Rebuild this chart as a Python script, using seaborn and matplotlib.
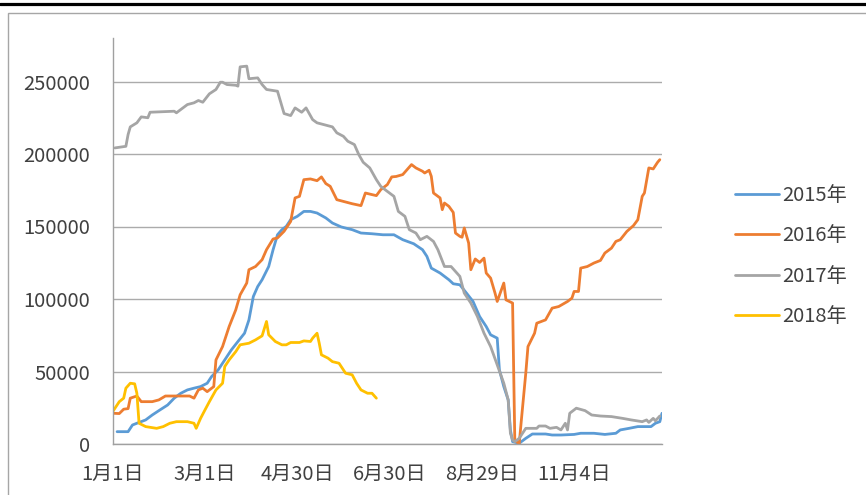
import numpy as np
import pandas as pd
import matplotlib
matplotlib.use("Agg")
import matplotlib.pyplot as plt
import seaborn as sns
from matplotlib.lines import Line2D
from matplotlib.patches import Rectangle

## series values (x = trading-day index, 0..250)
x_2015 = [2, 7, 9, 11, 15, 18, 21, 25, 28, 31, 34, 37, 40, 43, 45, 48, 51, 54, 57, 60,
          62, 64, 66, 68, 71, 73, 75, 77, 79, 81, 84, 87, 90, 93, 97, 100, 104, 109, 113, 118,
          123, 128, 132, 137, 141, 143, 145, 149, 153, 155, 158, 161, 164, 167, 170, 172, 175, 176, 178, 180,
          181, 182, 185, 188, 191, 197, 200, 204, 210, 213, 219, 224, 229, 231, 235, 239, 245, 247, 249, 250]
y_2015 = [8500, 8500, 13100, 14300, 16600, 20000, 23000, 26900, 31600, 35000, 37300, 38500, 39600, 41900, 46500, 51100, 58000, 64900, 70700, 76400,
          85600, 101700, 108600, 113300, 122400, 134000, 144300, 147800, 150100, 154700, 157000, 160400, 160400, 159300, 155900, 152400, 149700, 147800, 145500, 145000,
          144300, 144300, 140900, 138100, 134000, 129400, 121300, 117900, 113300, 110500, 109800, 104100, 98300, 87900, 81000, 75300, 73000, 51100, 39600, 30400,
          9700, 1600, 500, 3900, 6900, 6900, 6200, 6200, 6600, 7400, 7400, 6600, 7400, 9700, 10800, 12000, 12000, 14300, 15400, 21200]

x_2016 = [0, 3, 5, 7, 8, 11, 13, 18, 21, 24, 35, 37, 39, 41, 43, 46, 47, 50, 53, 56,
          58, 61, 62, 65, 68, 70, 73, 75, 78, 81, 83, 85, 87, 90, 93, 95, 97, 99, 102, 105,
          109, 113, 115, 118, 120, 122, 125, 127, 129, 132, 136, 138, 141, 142, 144, 145, 146, 149, 150, 151,
          153, 155, 156, 158, 159, 160, 162, 163, 165, 167, 169, 170, 172, 174, 175, 178, 179, 182, 183, 185,
          186, 188, 189, 192, 193, 197, 200, 203, 207, 209, 210, 212, 213, 216, 219, 222, 224, 227, 229, 231,
          234, 237, 239, 241, 242, 244, 246, 248, 249]
y_2016 = [21200, 21000, 24000, 24400, 31600, 33100, 29200, 29200, 30400, 33100, 33100, 31600, 37300, 38500, 36100, 39600, 58000, 67200, 81000, 92500,
          102900, 111000, 120200, 122400, 127100, 134000, 141400, 142100, 146700, 153500, 169700, 170800, 182300, 182800, 181600, 184200, 179600, 177700, 168500, 167300,
          165700, 164400, 173100, 172000, 171300, 175400, 178900, 184200, 184500, 185800, 192700, 190400, 188100, 186900, 188800, 184600, 173100, 169700, 161600, 166200,
          163900, 159700, 145500, 143200, 142600, 149000, 138600, 120200, 127600, 125200, 128200, 117900, 114400, 104100, 98300, 111000, 99400, 97200, 2800, 0,
          16600, 48800, 67200, 76400, 83300, 85600, 93700, 94800, 98300, 100600, 105200, 105200, 121300, 122400, 124800, 126600, 131700, 135100, 139700, 140900,
          146600, 150600, 154700, 170800, 173100, 190400, 189700, 194300, 196100]

x_2017 = [1, 6, 7, 8, 11, 13, 16, 17, 28, 29, 31, 34, 37, 39, 41, 44, 47, 49, 50, 52,
          56, 57, 58, 61, 62, 66, 68, 70, 75, 77, 78, 81, 83, 86, 88, 91, 93, 96, 100, 102,
          105, 107, 110, 112, 114, 117, 120, 122, 125, 128, 130, 133, 135, 138, 140, 143, 146, 148, 151, 154,
          158, 160, 163, 166, 169, 172, 175, 178, 180, 181, 182, 183, 185, 188, 193, 194, 197, 199, 202, 204,
          206, 207, 208, 211, 215, 218, 222, 227, 232, 236, 241, 243, 244, 246, 247, 249]
y_2017 = [204200, 205300, 213400, 218700, 221500, 225600, 225000, 228800, 229500, 228400, 230700, 234100, 235300, 236900, 235700, 241500, 244500, 249500, 249500, 247900,
          247400, 246800, 260100, 260600, 251900, 252500, 247900, 244500, 243300, 233000, 227900, 226500, 231800, 228800, 231800, 223700, 221500, 220300, 218700, 214600,
          212200, 208800, 206500, 199600, 194300, 190400, 182300, 177700, 174200, 170800, 160400, 157000, 147800, 145500, 140900, 143200, 139700, 134000, 122400, 122400,
          115600, 104100, 97200, 87900, 76400, 67200, 54600, 41900, 30400, 7400, 2800, 1600, 3900, 10800, 10800, 12400, 12400, 10800, 11500, 9700,
          14300, 9700, 21200, 24700, 23000, 20000, 19300, 18900, 17700, 16600, 15400, 16600, 14900, 17700, 16000, 19300]

x_2018 = [0, 3, 5, 6, 8, 10, 11, 12, 15, 20, 23, 26, 29, 34, 37, 38, 40, 42, 44, 47,
          50, 51, 53, 56, 58, 62, 65, 68, 70, 71, 74, 77, 79, 81, 85, 87, 90, 91, 93, 94,
          95, 98, 100, 103, 106, 109, 111, 113, 116, 118, 120]
y_2018 = [22300, 29200, 31600, 38500, 41900, 41500, 35000, 14300, 12000, 10800, 12000, 14300, 15400, 15400, 14300, 10800, 17700, 23500, 29200, 37300,
          41900, 53400, 58000, 63700, 68400, 69500, 71800, 74600, 84500, 75300, 70700, 68400, 68400, 70000, 70000, 71100, 70700, 73000, 76400, 69500,
          61500, 59200, 56800, 55700, 48800, 47700, 41900, 37300, 35000, 35000, 31600]

years = ["2015年", "2016年", "2017年", "2018年"]
tick_labels = ["1月1日", "3月1日", "4月30日", "6月30日", "8月29日", "11月4日"]
y_ticks = [0, 50000, 100000, 150000, 200000, 250000]

colors = ["#5B9BD5", "#ED7D31", "#A5A5A5", "#FFC000"]

## long table for seaborn
frames = []
for yr, xs, ys in zip(years, [x_2015, x_2016, x_2017, x_2018], [y_2015, y_2016, y_2017, y_2018]):
    frames.append(pd.DataFrame({"idx": xs, "value": ys, "year": yr}))
df = pd.concat(frames, ignore_index=True)

sns.set_style("white")
plt.rcParams["font.family"] = ["Noto Sans CJK SC", "DejaVu Sans"]
text_color = "#404040"

W, H = 866, 495
fig = plt.figure(figsize=(W / 100, H / 100), dpi=100)

## page decorations: black rule on top and the grey chart-area frame
fig.add_artist(Line2D([0, 1], [1 - 4 / H, 1 - 4 / H], color="black", lw=2.3))
fig.add_artist(Rectangle((8 / W, -0.05), 1.2, 1 - 13 / H + 0.05, fill=False,
                         edgecolor="#a6a6a6", lw=1.0))

ax = fig.add_axes([112.7 / W, 1 - 444 / H, 549.3 / W, 406 / H])

sns.lineplot(data=df, x="idx", y="value", hue="year", palette=colors,
             estimator=None, sort=False, linewidth=2.0, ax=ax)

ax.set_xlim(0, 250)
ax.set_ylim(0, 280000)
ax.set_yticks(y_ticks)
ax.set_yticklabels([str(v) for v in y_ticks])
ax.set_xticks(np.arange(len(tick_labels)) * 42)
ax.set_xticklabels(tick_labels)
ax.set_xlabel("")
ax.set_ylabel("")

ax.yaxis.grid(True, color="#ababab", lw=1.0)
ax.set_axisbelow(True)
for s in ["top", "right"]:
    ax.spines[s].set_visible(False)
for s in ["left", "bottom"]:
    ax.spines[s].set_color("#a0a0a0")
    ax.spines[s].set_linewidth(1.0)

ax.tick_params(axis="y", length=5.5, color="#a0a0a0", pad=11, labelsize=14.5, labelcolor=text_color)
ax.tick_params(axis="x", length=0, pad=14, labelsize=14.5, labelcolor=text_color)

handles, labels = ax.get_legend_handles_labels()
ax.legend(handles, labels, loc="center left", bbox_to_anchor=(735 / W, 1 - 256 / H),
          bbox_transform=fig.transFigure, frameon=False, fontsize=14.5,
          handlelength=2.2, handletextpad=0.15, labelspacing=0.95,
          borderpad=0, borderaxespad=0, labelcolor=text_color)

fig.savefig("out.png", dpi=100)
